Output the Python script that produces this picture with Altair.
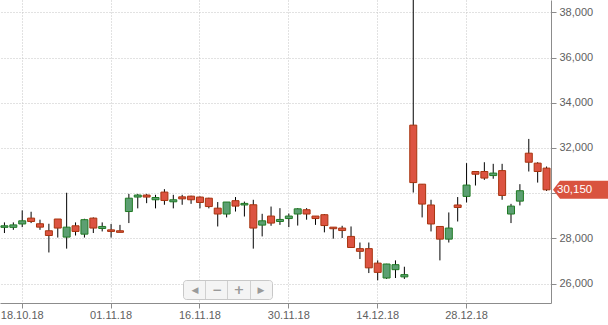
import altair as alt
import pandas as pd

dates = ["16.10.18", "17.10.18", "18.10.18", "19.10.18", "22.10.18", "23.10.18", "24.10.18", "25.10.18",
         "26.10.18", "29.10.18", "30.10.18", "31.10.18", "01.11.18", "02.11.18", "06.11.18", "07.11.18",
         "08.11.18", "09.11.18", "12.11.18", "13.11.18", "14.11.18", "15.11.18", "16.11.18", "19.11.18",
         "20.11.18", "21.11.18", "22.11.18", "23.11.18", "26.11.18", "27.11.18", "28.11.18", "29.11.18",
         "30.11.18", "03.12.18", "04.12.18", "05.12.18", "06.12.18", "07.12.18", "10.12.18", "11.12.18",
         "12.12.18", "13.12.18", "14.12.18", "17.12.18", "18.12.18", "19.12.18", "20.12.18", "21.12.18",
         "24.12.18", "25.12.18", "26.12.18", "27.12.18", "28.12.18", "03.01.19", "04.01.19", "08.01.19",
         "09.01.19", "10.01.19", "11.01.19", "14.01.19", "15.01.19", "16.01.19"]

opens = [28490, 28490, 28640, 28900, 28650, 28340, 28860, 28060, 28560, 28190, 28900, 28440, 28380, 28340,
         29190, 29830, 29920, 29710, 30050, 29620, 29840, 29870, 29830, 29780, 29340, 29080, 29670, 29480,
         29490, 28590, 28990, 28750, 28880, 29080, 29270, 28990, 29050, 28500, 28460, 28090, 27550, 27550,
         26910, 26250, 26620, 26300, 33010, 30400, 29480, 28530, 27970, 29480, 29860, 30960, 30960, 30780,
         31000, 29080, 29650, 31770, 31330, 31110]
closes = [28560, 28600, 28780, 28750, 28500, 28130, 28460, 28500, 28310, 28830, 28460, 28530, 28310, 28270,
          29780, 29920, 29830, 29810, 29680, 29710, 29750, 29710, 29590, 29410, 29080, 29610, 29430, 29550,
          28460, 28780, 28680, 28840, 28990, 29310, 29080, 28880, 28570, 28430, 28350, 27600, 27430, 26700,
          26500, 26870, 26840, 26400, 30470, 29520, 28640, 27970, 28460, 29370, 30360, 30840, 30670, 30890,
          29900, 29430, 30110, 31370, 30960, 30150]
highs = [28710, 28710, 29240, 29180, 28830, 28650, 28860, 30020, 28710, 28870, 28930, 28710, 28640, 28600,
         29970, 29970, 29970, 29930, 30180, 29930, 29930, 29890, 29860, 29800, 29610, 29610, 29830, 29630,
         29710, 29090, 29410, 29340, 29100, 29340, 29340, 28990, 29080, 28500, 28560, 28530, 27820, 27820,
         27030, 26880, 27030, 26750, 39500, 30400, 29710, 28530, 29150, 29830, 31330, 30960, 31370, 31300,
         31300, 29530, 30400, 32400, 31370, 31180]
lows = [28240, 28380, 28500, 28680, 28380, 27380, 28040, 27550, 28130, 28040, 28240, 28310, 28040, 28270,
        28680, 29330, 29560, 29330, 29490, 29330, 29490, 29530, 29330, 29330, 28530, 28930, 29190, 28970,
        27550, 28090, 28560, 28600, 28500, 28570, 28830, 28600, 28270, 27990, 28020, 27580, 27090, 26470,
        26150, 26210, 26250, 26210, 30030, 28930, 28310, 27030, 27820, 28750, 29590, 30340, 30590, 30640,
        29710, 28680, 29460, 30960, 30470, 30100]

x_ticks = ["18.10.18", "01.11.18", "16.11.18", "30.11.18", "14.12.18", "28.12.18"]
y_ticks = [26000, 28000, 30000, 32000, 34000, 36000, 38000]
y_domain = [25146, 38543]

df = pd.DataFrame({"date": dates, "open": opens, "high": highs, "low": lows, "close": closes})
df["dir"] = ["up" if c >= o else "down" for o, c in zip(opens, closes)]

FONT = "Liberation Sans"
GREEN_FILL, GREEN_STROKE = "#5c9f72", "#1f7a23"
RED_FILL, RED_STROKE = "#dc5341", "#a8340f"
TAG = "#d9533f"

xscale = alt.Scale(domain=dates, paddingInner=0, paddingOuter=0)
yscale = alt.Scale(domain=y_domain, nice=False, zero=False)

x_axis = alt.Axis(values=x_ticks, labelAngle=0, tickSize=5, labelPadding=1, grid=True,
                  title=None, zindex=0)
# the 30,000 label is hidden behind the last-price tag in the reference
y_axis = alt.Axis(values=y_ticks, orient="right", tickSize=5, labelPadding=3,
                  labelExpr="datum.value == 30000 ? '' : format(datum.value, ',.0f')",
                  grid=True, title=None, zindex=0)

base = alt.Chart(df)

wicks = base.mark_rule(color="black", strokeWidth=1, clip=True).encode(
    x=alt.X("date:N", sort=dates, scale=xscale, axis=x_axis, bandPosition=0.5),
    y=alt.Y("low:Q", scale=yscale, axis=y_axis),
    y2="high:Q",
)

bodies = base.mark_bar(size=7, strokeWidth=1, clip=True).encode(
    x=alt.X("date:N", sort=dates, scale=xscale, axis=x_axis),
    y=alt.Y("open:Q", scale=yscale, axis=y_axis),
    y2="close:Q",
    fill=alt.Fill("dir:N", scale=alt.Scale(domain=["up", "down"], range=[GREEN_FILL, RED_FILL]), legend=None),
    stroke=alt.Stroke("dir:N", scale=alt.Scale(domain=["up", "down"], range=[GREEN_STROKE, RED_STROKE]),
                      legend=None),
)

last = pd.DataFrame({"close": [closes[-1]], "label": [f"{closes[-1]:,}"]})
tag_shape = "M -0.78 0 L 0 -1 L 6 -1 L 6 1 L 0 1 Z"
tag = alt.Chart(last).mark_point(shape=tag_shape, size=324, filled=True, fill=TAG, opacity=1,
                                 strokeWidth=0).encode(
    x=alt.value(560), y=alt.Y("close:Q", scale=yscale, axis=y_axis))
tag_text = alt.Chart(last).mark_text(align="left", baseline="middle", color="white", fontSize=11.5,
                                     font=FONT, dy=0.5).encode(
    x=alt.value(557), y=alt.Y("close:Q", scale=yscale, axis=y_axis), text="label:N")

# navigator buttons overlay
one = pd.DataFrame({"a": [0]})
nav_box = alt.Chart(one).mark_rect(fill="#f4f4f4", stroke="#c8c8c8", strokeWidth=1,
                                   cornerRadius=3).encode(
    x=alt.value(183.5), x2=alt.value(272.5), y=alt.value(280.5), y2=alt.value(299.5))
nav_layers = [nav_box]
for sx in [205.5, 227.5, 250.5]:
    nav_layers.append(alt.Chart(one).mark_rule(color="#d0d0d0", strokeWidth=1).encode(
        x=alt.value(sx), y=alt.value(281), y2=alt.value(299)))
for gx, g, fs in [(195, "◀", 9), (217, "−", 12), (239, "+", 13), (261, "▶", 9)]:
    nav_layers.append(alt.Chart(one).mark_text(text=g, color="#9a9a9a", fontSize=fs, font="DejaVu Sans",
                                               fontWeight="bold", align="center",
                                               baseline="middle").encode(
        x=alt.value(gx), y=alt.value(289.5)))

chart = alt.layer(wicks, bodies, tag, tag_text, *nav_layers).properties(
    width=551, height=303,
    autosize=alt.AutoSizeParams(type="none"),
    padding={"left": 0, "top": 0, "right": 57, "bottom": 22},
    background="white",
).configure_view(stroke=None).configure_axis(
    labelFont=FONT, labelFontSize=11, labelColor="#606060",
    domainColor="#8c8c8c", tickColor="#8c8c8c",
    gridColor="#c4c4c4", gridDash=[1, 2], gridWidth=1,
)

chart.save("out.html", embed_options={"renderer": "svg", "actions": False})
